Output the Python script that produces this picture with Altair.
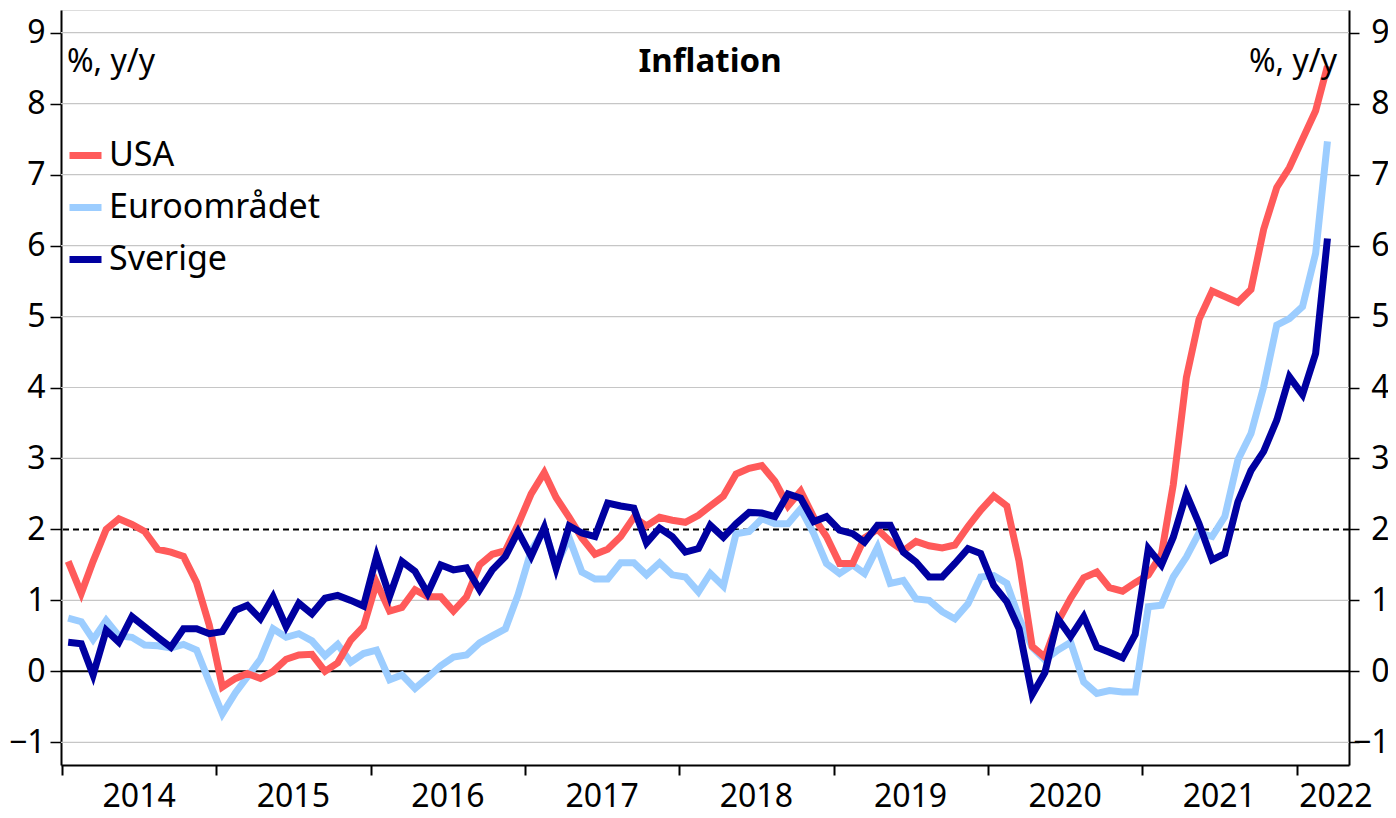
import altair as alt
import pandas as pd

# ---------------- data ----------------
series_names = ["USA", "Euroområdet", "Sverige"]
series_colors = ["#ff5a5a", "#9ccdff", "#0000a0"]

# monthly, Jan 2014 .. Mar 2022 (99 months)
usa = [
    1.55, 1.10, 1.55, 2.00, 2.15, 2.07, 1.97, 1.72, 1.68, 1.62, 1.25, 0.65,
    -0.22, -0.10, -0.03, -0.10, 0.00, 0.17, 0.23, 0.24, 0.00, 0.12, 0.44, 0.63,
    1.25, 0.85, 0.90, 1.15, 1.05, 1.05, 0.85, 1.05, 1.50, 1.65, 1.70, 2.07,
    2.50, 2.80, 2.45, 2.17, 1.88, 1.65, 1.72, 1.90, 2.17, 2.05, 2.17, 2.13,
    2.10, 2.20, 2.33, 2.47, 2.78, 2.86, 2.90, 2.68, 2.33, 2.54, 2.17, 1.90,
    1.52, 1.52, 1.88, 2.00, 1.83, 1.70, 1.83, 1.77, 1.74, 1.78, 2.04, 2.27,
    2.47, 2.33, 1.55, 0.35, 0.20, 0.70, 1.03, 1.32, 1.40, 1.18, 1.13, 1.25,
    1.36, 1.65, 2.63, 4.14, 4.96, 5.36, 5.28, 5.20, 5.38, 6.23, 6.82, 7.10,
    7.50, 7.90, 8.53,
]
euro = [
    0.75, 0.70, 0.45, 0.72, 0.50, 0.48, 0.37, 0.36, 0.33, 0.38, 0.30, -0.15,
    -0.60, -0.30, -0.08, 0.17, 0.60, 0.48, 0.53, 0.43, 0.22, 0.38, 0.13, 0.25,
    0.30, -0.12, -0.05, -0.24, -0.09, 0.08, 0.20, 0.23, 0.40, 0.50, 0.60, 1.08,
    1.70, 2.00, 1.50, 1.88, 1.40, 1.30, 1.30, 1.53, 1.53, 1.36, 1.53, 1.36,
    1.33, 1.12, 1.38, 1.20, 1.94, 1.97, 2.15, 2.08, 2.08, 2.29, 1.94, 1.52,
    1.38, 1.50, 1.38, 1.75, 1.24, 1.28, 1.02, 1.00, 0.84, 0.74, 0.95, 1.33,
    1.35, 1.24, 0.75, 0.34, 0.16, 0.30, 0.41, -0.15, -0.31, -0.27, -0.29, -0.29,
    0.91, 0.93, 1.33, 1.61, 1.95, 1.90, 2.18, 2.98, 3.35, 4.01, 4.88, 4.97,
    5.14, 5.89, 7.47,
]
sverige = [
    0.41, 0.39, -0.05, 0.58, 0.41, 0.77, 0.63, 0.48, 0.34, 0.60, 0.60, 0.53,
    0.56, 0.86, 0.93, 0.74, 1.05, 0.63, 0.96, 0.81, 1.03, 1.07, 1.00, 0.92,
    1.62, 1.06, 1.55, 1.41, 1.10, 1.50, 1.43, 1.46, 1.15, 1.43, 1.62, 1.97,
    1.62, 2.03, 1.45, 2.05, 1.95, 1.90, 2.37, 2.33, 2.30, 1.81, 2.02, 1.90,
    1.68, 1.73, 2.06, 1.89, 2.08, 2.24, 2.23, 2.18, 2.50, 2.44, 2.11, 2.18,
    1.99, 1.94, 1.82, 2.06, 2.06, 1.68, 1.54, 1.33, 1.33, 1.52, 1.73, 1.66,
    1.21, 0.98, 0.60, -0.33, -0.02, 0.74, 0.49, 0.77, 0.34, 0.27, 0.19, 0.52,
    1.73, 1.50, 1.89, 2.50, 2.08, 1.57, 1.66, 2.39, 2.83, 3.10, 3.54, 4.15,
    3.90, 4.48, 6.10,
]

dates = [f"{2014 + k // 12}-{k % 12 + 1:02d}-15" for k in range(len(usa))]
year_labels = [str(y) for y in range(2014, 2023)]
y_ticks = list(range(-1, 10))
grid_values = [v for v in y_ticks if v not in (0, 2)]
target_value = [2]
zero_value = [0]

# ---------------- tables ----------------
rows = []
for name, vals in zip(series_names, [usa, euro, sverige]):
    for d, v in zip(dates, vals):
        rows.append({"date": d, "serie": name, "value": v})
df = pd.DataFrame(rows)

label_dates = [f"{y}-07-02" for y in range(2014, 2022)] + ["2022-04-04"]
years_df = pd.DataFrame({"date": label_dates, "label": year_labels})

FONT = "Noto Sans"
FS = 32

x_scale = alt.Scale(
    type="utc",
    domain=[alt.DateTime(year=2013, month=12, date=29, utc=True),
            alt.DateTime(year=2022, month=5, date=5, utc=True)],
)
x_axis = alt.Axis(
    values=[alt.DateTime(year=y, month=1, date=1, utc=True) for y in range(2014, 2023)],
    labels=False, title=None, grid=False, orient="bottom",
    tickSize=10, tickWidth=2, tickColor="black",
    domainColor="black", domainWidth=2,
)
y_scale = alt.Scale(domain=[-1.32, 9.32], nice=False, zero=False)

left_axis = alt.Axis(
    values=y_ticks, title=None, grid=False, orient="left",
    tickSize=11, tickWidth=1.5, tickColor="black",
    domainColor="black", domainWidth=2,
    labelFont=FONT, labelFontSize=FS, labelColor="black", labelPadding=5,
)
right_axis = alt.Axis(
    values=y_ticks, title=None, grid=False, orient="right",
    tickSize=10, tickWidth=1.5, tickColor="black",
    domainColor="black", domainWidth=2,
    labelFont=FONT, labelFontSize=FS, labelColor="black",
    labelAlign="right", labelPadding=30,
)

color = alt.Color(
    "serie:N",
    scale=alt.Scale(domain=series_names, range=series_colors),
    legend=alt.Legend(
        title=None, orient="none", legendX=5, legendY=126, direction="vertical",
        symbolType="stroke", symbolSize=1024, symbolStrokeWidth=7,
        labelFont=FONT, labelFontSize=34, labelColor="black", labelLimit=0,
        labelOffset=4, rowPadding=15, padding=0,
    ),
)

grid = alt.Chart(pd.DataFrame({"g": grid_values})).mark_rule(
    color="#c6c6c6", strokeWidth=1.2
).encode(y=alt.Y("g:Q", scale=y_scale, axis=left_axis))

zero = alt.Chart(pd.DataFrame({"z": zero_value})).mark_rule(
    color="black", strokeWidth=2
).encode(y=alt.Y("z:Q", scale=y_scale, axis=right_axis))

target = alt.Chart(pd.DataFrame({"t": target_value})).mark_rule(
    color="black", strokeWidth=2, strokeDash=[6, 4]
).encode(y=alt.Y("t:Q", scale=y_scale, axis=None))

def series_layer(name):
    return alt.Chart(df).transform_filter(
        alt.datum.serie == name
    ).mark_line(strokeWidth=7).encode(
        x=alt.X("date:T", scale=x_scale, axis=x_axis),
        y=alt.Y("value:Q", scale=y_scale, axis=None),
        color=color,
    )

lines = [series_layer(n) for n in ["Euroområdet", "USA", "Sverige"]]

years = alt.Chart(years_df).mark_text(
    font=FONT, fontSize=32, color="black", align="center", baseline="alphabetic"
).encode(
    x=alt.X("date:T", scale=x_scale, axis=x_axis),
    y=alt.value(797),
    text="label:N",
)

title = alt.Chart(pd.DataFrame({"t": ["Inflation"]})).mark_text(
    font=FONT, fontSize=33, fontWeight="bold", color="black",
    align="center", baseline="alphabetic"
).encode(x=alt.value(649), y=alt.value(62), text="t:N")

unit_left = alt.Chart(pd.DataFrame({"t": ["%, y/y"]})).mark_text(
    font=FONT, fontSize=FS, color="black", align="left", baseline="alphabetic"
).encode(x=alt.value(6), y=alt.value(62), text="t:N")

unit_right = alt.Chart(pd.DataFrame({"t": ["%, y/y"]})).mark_text(
    font=FONT, fontSize=FS, color="black", align="right", baseline="alphabetic"
).encode(x=alt.value(1276), y=alt.value(62), text="t:N")

chart = alt.layer(
    grid, zero, target, *lines, years, title, unit_left, unit_right
).properties(
    width=1288, height=755,
    autosize=alt.AutoSizeParams(type="none"),
    padding={"left": 53, "top": 2, "right": 39, "bottom": 53},
).resolve_axis(y="independent").configure_view(stroke=None).configure(font=FONT)

chart.save("out.html", embed_options={"renderer": "svg", "actions": False})
